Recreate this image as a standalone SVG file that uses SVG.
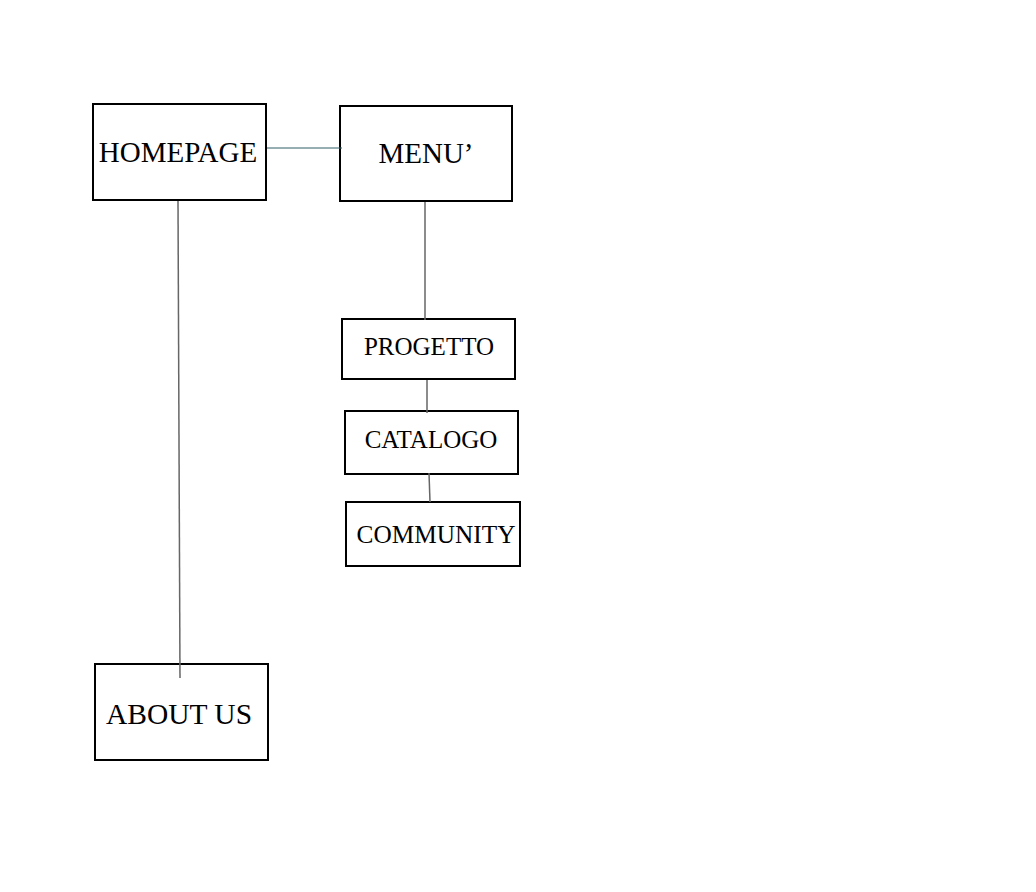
<svg xmlns="http://www.w3.org/2000/svg" width="1036" height="892" viewBox="0 0 1036 892">
<style>
.box{fill:#fff;stroke:#000;stroke-width:2}
.lbl{font-family:"Liberation Serif","Times New Roman",serif;fill:#000;text-anchor:middle}
.c{stroke:#666;stroke-width:1.5;fill:none}
</style>
<rect width="1036" height="892" fill="#fff"/>
<g id="homepage">
<rect class="box" x="93" y="104" width="173" height="96"/>
<text class="lbl" x="178" y="162" font-size="29">HOMEPAGE</text>
</g>
<g id="menu">
<rect class="box" x="340" y="106" width="172" height="95"/>
<text class="lbl" x="426" y="163" font-size="29">MENU’</text>
</g>
<g id="progetto">
<rect class="box" x="342" y="319" width="173" height="60"/>
<text class="lbl" x="429" y="355" font-size="25">PROGETTO</text>
</g>
<g id="catalogo">
<rect class="box" x="345" y="411" width="173" height="63"/>
<text class="lbl" x="431" y="448" font-size="25">CATALOGO</text>
</g>
<g id="community">
<rect class="box" x="346" y="502" width="174" height="64"/>
<text class="lbl" x="436" y="543" font-size="25.3">COMMUNITY</text>
</g>
<g id="aboutus">
<rect class="box" x="95" y="664" width="173" height="96"/>
<text class="lbl" x="179" y="724" font-size="29.5">ABOUT US</text>
</g>
<g id="connectors">
<line class="c" x1="267" y1="148" x2="342" y2="148" style="stroke:#2f5f66;stroke-width:1"/>
<line class="c" x1="178" y1="201" x2="180" y2="678"/>
<line class="c" x1="425" y1="202" x2="425" y2="320"/>
<line class="c" x1="427" y1="380" x2="427" y2="413"/>
<line class="c" x1="429" y1="473" x2="430" y2="502"/>
</g>
</svg>
